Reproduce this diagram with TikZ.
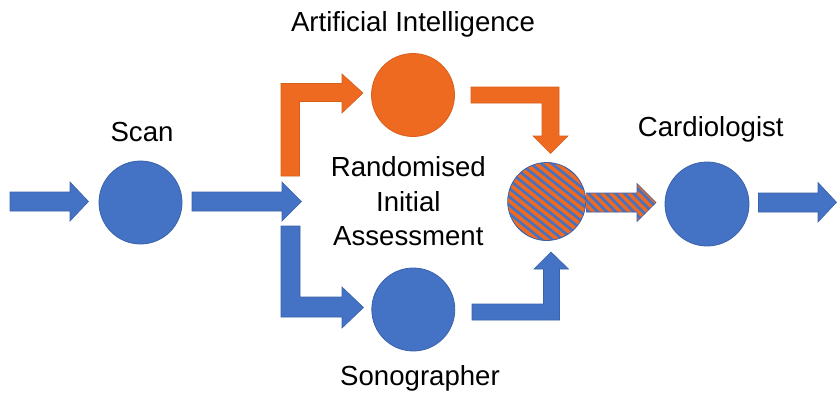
\documentclass[tikz,border=0pt]{standalone}
\usepackage{fontspec}
\setmainfont{Liberation Sans}
\usetikzlibrary{calc}
\definecolor{pblue}{HTML}{4472C4}
\definecolor{pblueline}{HTML}{3A62AA}
\definecolor{porange}{HTML}{EF6A21}
\definecolor{porangeline}{HTML}{D85E1C}
\begin{document}
\begin{tikzpicture}[x=1pt,y=-1pt,
  lbl/.style={anchor=base,inner sep=0pt,font=\fontsize{27.6}{34}\selectfont,text=black},
  bluecirc/.style={circle,fill=pblue,draw=pblueline,line width=0.8pt,inner sep=0pt},
  orangecirc/.style={circle,fill=porange,draw=porangeline,line width=0.8pt,inner sep=0pt},
  bluearrow/.style={fill=pblue,draw=pblueline,line width=0.6pt,line join=miter},
  orangearrow/.style={fill=porange,draw=porangeline,line width=0.6pt,line join=miter},
  stripe/.style={draw=pblue,line width=2.6pt}]
\useasboundingbox (0,0) rectangle (837,394);
\fill[white] (0,0) rectangle (837,394);

% circles
\node[bluecirc,minimum size=83pt] (scan) at (140.5,202.5) {};
\node[orangecirc,minimum size=83pt] (ai) at (413,95) {};
\node[bluecirc,minimum size=83pt] (sono) at (413.3,309.5) {};
\node[bluecirc,minimum size=84pt] (cardio) at (707,204) {};
\coordinate (mix) at (546.7,201.5);

% hatched circle
\begin{scope}
  \clip (mix) circle (39);
  \fill[porange] (mix) circle (39);
  \foreach \k in {-126,-115.5,...,126} {
    \draw[stripe] ($(mix)+(\k,0)+(-60,-48)$) -- ($(mix)+(\k,0)+(60,48)$);
  }
\end{scope}
\draw[pblueline,line width=0.8pt] (mix) circle (39);
\node[inner sep=0pt,minimum size=78pt] (mixn) at (mix) {};

% labels
\node[lbl] (tai) at (413,31.7) {Artificial Intelligence};
\node[lbl] (tscan) at (142,141.5) {Scan};
\node[lbl] (tcardio) at (710.8,136.7) {Cardiologist};
\node[lbl] (t1) at (408.3,176.7) {Randomised};
\node[lbl] (t2) at (408.3,211.2) {Initial};
\node[lbl] (t3) at (408.3,245.8) {Assessment};
\node[lbl] (tsono) at (420,385) {Sonographer};

% straight block arrows
\draw[bluearrow] (10,192) -- (70,192) -- (70,182) -- (88.5,201.5) -- (70,221) -- (70,211) -- (10,211) -- cycle;
\draw[bluearrow] (192,192) -- (282,192) -- (282,182) -- (301.5,201.5) -- (282,221) -- (282,211) -- (192,211) -- cycle;
\draw[bluearrow] (758.5,193) -- (818,193) -- (818,182.5) -- (836.5,202.3) -- (818,222) -- (818,212) -- (758.5,212) -- cycle;

% L arrows
\draw[orangearrow] (281,176) -- (281,83.5) -- (342,83.5) -- (342,74) -- (363,93) -- (342,113) -- (342,101.5) -- (299.5,101.5) -- (299.5,176) -- cycle;
\draw[bluearrow] (281,226) -- (281,317) -- (342,317) -- (342,328) -- (363.5,307.5) -- (342,287) -- (342,297) -- (300,297) -- (300,226) -- cycle;
\draw[orangearrow] (471,87) -- (559,87) -- (559,136) -- (568,136) -- (550.5,153.5) -- (533,136) -- (542,136) -- (542,103) -- (471,103) -- cycle;
\draw[bluearrow] (472,320) -- (559.5,320) -- (559.5,269) -- (568.5,269) -- (551,252) -- (534,269) -- (543.5,269) -- (543.5,304) -- (472,304) -- cycle;

% hatched arrow
\begin{scope}
  \path[clip] (586,193) -- (637,193) -- (637,183.5) -- (656,202.5) -- (637,221.5) -- (637,212) -- (586,212) -- cycle;
  \fill[porange] (580,180) rectangle (660,225);
  \foreach \k in {-60,-51,...,100} {
    \draw[stripe] (580+\k,170) -- (640+\k,230);
  }
\end{scope}
\draw[pblueline,line width=0.6pt,line join=miter] (586,193) -- (637,193) -- (637,183.5) -- (656,202.5) -- (637,221.5) -- (637,212) -- (586,212);
\end{tikzpicture}
\end{document}
